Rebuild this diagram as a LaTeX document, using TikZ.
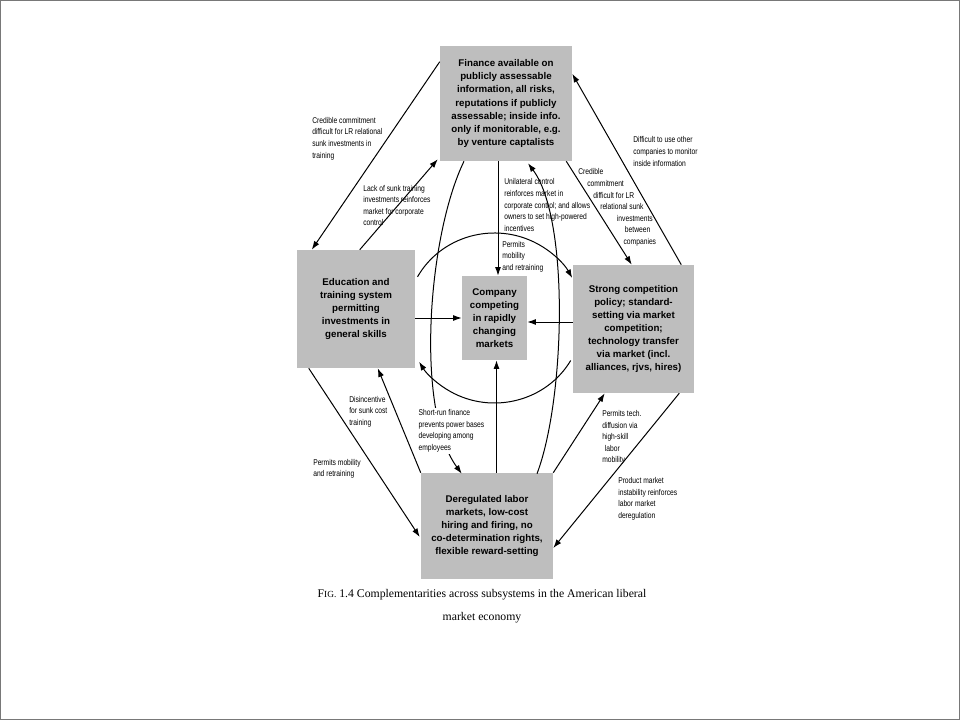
\documentclass[tikz,border=0pt]{standalone}
\usepackage{fontspec}
\newfontfamily\boxfont{Liberation Sans}
\newfontfamily\labfont[FakeStretch=0.8]{Liberation Sans}
\newfontfamily\capfont{Liberation Serif}
\usetikzlibrary{arrows.meta,calc}
\definecolor{boxgray}{RGB}{190,190,190}
\definecolor{framegray}{RGB}{120,120,120}
\tikzset{
  box/.style={fill=boxgray, inner sep=0pt, align=center,
    font=\boxfont\bfseries\fontsize{7.3}{9.8}\selectfont},
  lab/.style={inner sep=0pt, align=left, font=\labfont\fontsize{6.3}{8.7}\selectfont},
  arr/.style={draw=black, line width=0.75pt, -{Latex[length=6.5pt,width=4.5pt]}},
}
\begin{document}
\begin{tikzpicture}[x=0.75pt,y=-0.75pt]
\useasboundingbox (0,0) rectangle (960,720);
\draw[framegray, line width=0.9pt] (0.6,0.6) rectangle (959.4,719.4);

% boxes
\node[box, minimum width=99pt, minimum height=86.25pt] (fin) at (506,103.5)
  {Finance available on\\publicly assessable\\information, all risks,\\reputations if publicly\\assessable; inside info.\\only if monitorable, e.g.\\by venture captalists};
\node[box, minimum width=88.5pt, minimum height=88.5pt] (edu) at (356,309)
  {Education and\\training system\\permitting\\investments in\\general skills};
\node[box, minimum width=48.75pt, minimum height=63pt] (comp) at (494.5,318)
  {Company\\competing\\in rapidly\\changing\\markets};
\node[box, minimum width=90.75pt, minimum height=96pt] (strong) at (633.5,329)
  {Strong competition\\policy; standard-\\setting via market\\competition;\\technology transfer\\via market (incl.\\alliances, rjvs, hires)};
\node[box, minimum width=99pt, minimum height=79.5pt] (dereg) at (487,526)
  {Deregulated labor\\markets, low-cost\\hiring and firing, no\\co-determination rights,\\flexible reward-setting};

% straight connectors
\draw[arr] ($(fin.north west)+(0,16)$) -- ($(edu.north west)+(15,0)$);
\draw[arr] ($(edu.north west)+(63,0)$) -- ($(fin.south west)+(-2,-2)$);
\draw[arr] ($(strong.north east)+(-13,0)$) -- ($(fin.north east)+(0,28)$);
\draw[arr] ($(fin.south east)+(-6,0)$) -- ($(strong.north west)+(59,0)$);
\draw[arr] ($(fin.south)+(-8,0)$) -- ($(comp.north)+(3.5,0)$);
\draw[arr] (edu.east |- comp.west) -- (comp.west);
\draw[arr] ($(strong.west |- comp.east)+(0,4)$) -- ($(comp.east)+(0,4)$);
\draw[arr] ($(dereg.north -| comp.south)+(2,0)$) -- ($(comp.south)+(2,0)$);
\draw[arr] ($(edu.south west)+(12,0)$) -- ($(dereg.west)+(-1,11)$);
\draw[arr] (dereg.north west) -- ($(edu.south west)+(81,0)$);
\draw[arr] (dereg.north east) -- ($(strong.south west)+(32,0)$);
\draw[arr] ($(strong.south east)+(-15,0)$) -- ($(dereg.east)+(0,22)$);

% circle arcs round the company
\draw[arr] ($(comp.center)+(209:88 and 85)$) arc[start angle=209, end angle=332, x radius=88, y radius=85];
\draw[arr] ($(comp.center)+(30:88 and 85)$) arc[start angle=30, end angle=149, x radius=88, y radius=85];

% tall curves
\draw[arr] ($(dereg.north)+(50,1)$) .. controls +(28,-74) and +(42,56) .. ($(fin.south)+(22,2)$);
\draw[arr] ($(fin.south)+(-42,0)$) .. controls +(-36,74) and +(-47,-64) .. ($(dereg.north west)+(41,1)$);

% labels
\node[lab, anchor=west] (l1) at (312,138.5)
  {Credible commitment\\difficult for LR relational\\sunk investments in\\training};
\node[lab, anchor=west] (l2) at (363,205.5)
  {Lack of sunk training\\investments reinforces\\market for corporate\\control};
\node[lab, anchor=west] (l3) at (633,151.5)
  {Difficult to use other\\companies to monitor\\inside information};
\node[lab, anchor=west] (l4) at (578,207.5)
  {Credible\\\hspace*{6.75pt}commitment\\\hspace*{11.25pt}difficult for LR\\\hspace*{16.5pt}relational sunk\\\hspace*{29pt}investments\\\hspace*{35pt}between\\\hspace*{34pt}companies};
\node[lab, anchor=west] (l5) at (504,205)
  {Unilateral control\\reinforces market in\\corporate control; and allows\\owners to set high-powered\\incentives};
\node[lab, anchor=west] (l6) at (502,256.5)
  {Permits\\mobility\\and retraining};
\node[lab, anchor=west, fill=white, inner sep=1pt] (l7) at (417,431)
  {Short-run finance\\prevents power bases\\developing among\\employees};
\node[lab, anchor=west] (l8) at (349,411.5)
  {Disincentive\\for sunk cost\\training};
\node[lab, anchor=west] (l9) at (313,469)
  {Permits mobility\\and retraining};
\node[lab, anchor=west] (l10) at (602,437.5)
  {Permits tech.\\diffusion via\\high-skill\\\hspace*{2pt}labor\\mobility};
\node[lab, anchor=west] (l11) at (618,499)
  {Product market\\instability reinforces\\labor market\\deregulation};

% caption
\node[align=center, inner sep=0pt, font=\capfont\fontsize{8.8}{17}\selectfont] (cap) at (482,606)
  {F{\fontsize{7}{8}\selectfont IG.} 1.4\ Complementarities across subsystems in the American liberal\\market economy};
\end{tikzpicture}
\end{document}
